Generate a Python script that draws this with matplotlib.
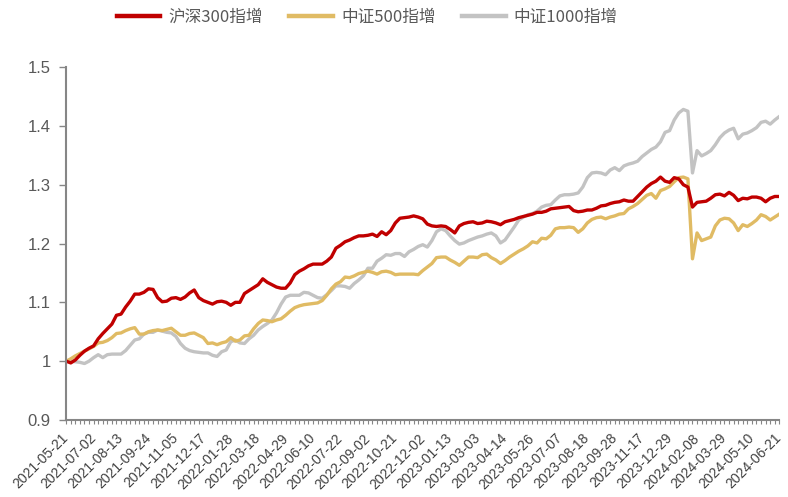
import matplotlib.pyplot as plt
import matplotlib as mpl
import numpy as np

plt.rcParams["font.family"] = ["Liberation Sans", "Noto Sans CJK SC", "DejaVu Sans"]

# weekly net value, 2021-05-21 .. 2024-06-21 (157 trading weeks)
tick_labels = [
	"2021-05-21", "2021-07-02", "2021-08-13", "2021-09-24", "2021-11-05", "2021-12-17",
	"2022-01-28", "2022-03-18", "2022-04-29", "2022-06-10", "2022-07-22", "2022-09-02",
	"2022-10-21", "2022-12-02", "2023-01-13", "2023-03-03", "2023-04-14", "2023-05-26",
	"2023-07-07", "2023-08-18", "2023-09-28", "2023-11-17", "2023-12-29", "2024-02-08",
	"2024-03-29", "2024-05-10", "2024-06-21",
]

hs300 = [
	1.000, 0.997, 1.002, 1.010, 1.017, 1.022, 1.026, 1.038, 1.047, 1.055,
	1.063, 1.078, 1.080, 1.092, 1.102, 1.114, 1.114, 1.117, 1.123, 1.122,
	1.108, 1.101, 1.102, 1.107, 1.108, 1.105, 1.109, 1.116, 1.121, 1.108,
	1.103, 1.100, 1.097, 1.101, 1.102, 1.100, 1.095, 1.100, 1.100, 1.115,
	1.120, 1.125, 1.130, 1.140, 1.134, 1.130, 1.126, 1.124, 1.124, 1.133,
	1.147, 1.153, 1.157, 1.162, 1.165, 1.165, 1.165, 1.170, 1.177, 1.192,
	1.197, 1.203, 1.206, 1.210, 1.213, 1.213, 1.214, 1.216, 1.212, 1.220,
	1.215, 1.222, 1.235, 1.243, 1.244, 1.245, 1.247, 1.245, 1.242, 1.233,
	1.230, 1.229, 1.230, 1.229, 1.224, 1.218, 1.230, 1.234, 1.236, 1.237,
	1.234, 1.235, 1.238, 1.237, 1.235, 1.232, 1.237, 1.239, 1.241, 1.244,
	1.246, 1.248, 1.250, 1.253, 1.253, 1.255, 1.259, 1.260, 1.261, 1.262,
	1.263, 1.256, 1.254, 1.255, 1.257, 1.257, 1.260, 1.264, 1.265, 1.268,
	1.270, 1.271, 1.274, 1.272, 1.272, 1.280, 1.288, 1.296, 1.302, 1.306,
	1.313, 1.306, 1.304, 1.312, 1.310, 1.300, 1.296, 1.262, 1.270, 1.271,
	1.272, 1.277, 1.283, 1.284, 1.281, 1.287, 1.282, 1.273, 1.277, 1.276,
	1.279, 1.279, 1.277, 1.271, 1.277, 1.280, 1.280,
]

zz500 = [
	1.000, 1.004, 1.009, 1.013, 1.017, 1.021, 1.025, 1.031, 1.032, 1.035,
	1.040, 1.047, 1.048, 1.052, 1.055, 1.057, 1.046, 1.046, 1.050, 1.052,
	1.053, 1.052, 1.054, 1.056, 1.050, 1.044, 1.044, 1.047, 1.048, 1.044,
	1.040, 1.030, 1.031, 1.028, 1.031, 1.033, 1.040, 1.034, 1.036, 1.043,
	1.044, 1.055, 1.064, 1.070, 1.069, 1.067, 1.070, 1.072, 1.078, 1.085,
	1.091, 1.094, 1.096, 1.097, 1.098, 1.099, 1.103, 1.112, 1.123, 1.131,
	1.135, 1.143, 1.142, 1.145, 1.149, 1.151, 1.153, 1.151, 1.148, 1.152,
	1.153, 1.151, 1.147, 1.148, 1.148, 1.148, 1.148, 1.147, 1.154, 1.160,
	1.166, 1.176, 1.177, 1.177, 1.172, 1.168, 1.163, 1.170, 1.177, 1.177,
	1.176, 1.181, 1.182, 1.176, 1.172, 1.166, 1.171, 1.177, 1.182, 1.187,
	1.191, 1.196, 1.203, 1.201, 1.209, 1.208, 1.214, 1.225, 1.227, 1.227,
	1.228, 1.227, 1.219, 1.225, 1.235, 1.241, 1.244, 1.245, 1.242, 1.245,
	1.247, 1.250, 1.251, 1.259, 1.263, 1.268, 1.275, 1.282, 1.285, 1.277,
	1.290, 1.293, 1.297, 1.305, 1.312, 1.313, 1.310, 1.174, 1.218, 1.205,
	1.208, 1.211, 1.230, 1.240, 1.243, 1.242, 1.235, 1.222, 1.232, 1.229,
	1.234, 1.240, 1.249, 1.246, 1.240, 1.245, 1.250,
]

zz1000 = [
	1.000, 1.000, 0.999, 0.998, 0.996, 1.000, 1.006, 1.011, 1.006, 1.011,
	1.012, 1.012, 1.012, 1.018, 1.027, 1.036, 1.038, 1.046, 1.049, 1.049,
	1.053, 1.051, 1.049, 1.048, 1.042, 1.030, 1.022, 1.018, 1.016, 1.015,
	1.014, 1.014, 1.010, 1.008, 1.016, 1.019, 1.033, 1.036, 1.031, 1.030,
	1.038, 1.044, 1.053, 1.059, 1.064, 1.070, 1.082, 1.097, 1.109, 1.112,
	1.112, 1.112, 1.117, 1.116, 1.112, 1.108, 1.107, 1.113, 1.120, 1.128,
	1.128, 1.127, 1.124, 1.132, 1.138, 1.145, 1.158, 1.158, 1.170, 1.175,
	1.181, 1.180, 1.183, 1.183, 1.178, 1.186, 1.190, 1.195, 1.198, 1.194,
	1.205, 1.220, 1.225, 1.222, 1.213, 1.205, 1.199, 1.201, 1.205, 1.208,
	1.211, 1.213, 1.216, 1.218, 1.213, 1.201, 1.206, 1.217, 1.228, 1.240,
	1.245, 1.249, 1.251, 1.255, 1.262, 1.265, 1.266, 1.274, 1.281, 1.283,
	1.283, 1.284, 1.286, 1.296, 1.312, 1.320, 1.321, 1.320, 1.317, 1.325,
	1.329, 1.324, 1.332, 1.335, 1.337, 1.340, 1.348, 1.354, 1.360, 1.364,
	1.373, 1.389, 1.392, 1.410, 1.422, 1.428, 1.425, 1.320, 1.358, 1.349,
	1.353, 1.358, 1.368, 1.380, 1.388, 1.393, 1.396, 1.378, 1.386, 1.388,
	1.392, 1.397, 1.406, 1.408, 1.403, 1.410, 1.416,
]

series_names = ["沪深300指增", "中证500指增", "中证1000指增"]
colors = ["#C00000", "#E0BB64", "#C3C3C3"]

y_ticks = [0.9, 1.0, 1.1, 1.2, 1.3, 1.4, 1.5]
y_tick_labels = ["0.9", "1", "1.1", "1.2", "1.3", "1.4", "1.5"]

AXIS_COLOR = "#868686"
TEXT_COLOR = "#595959"

fig = plt.figure(figsize=(7.88, 4.97), dpi=100)
ax = fig.add_axes([0.084, 0.155, 0.905, 0.710])

x = np.arange(len(hs300))
# draw back to front so red sits on top
for values, name, color in list(zip([hs300, zz500, zz1000], series_names, colors))[::-1]:
	ax.plot(x, values, color=color, linewidth=2.4, label=name, solid_joinstyle="round")

ax.set_xlim(0, len(x) - 1)
ax.set_ylim(0.9, 1.5)

ax.set_yticks(y_ticks)
ax.set_yticklabels(y_tick_labels, fontsize=12, color=TEXT_COLOR)
ax.tick_params(axis="y", direction="out", length=5, width=1, color=AXIS_COLOR, pad=6)

ax.set_xticks(np.arange(0, len(x), 6))
ax.set_xticklabels(tick_labels, rotation=45, ha="right", va="center",
	rotation_mode="anchor", fontsize=10, color="#404040")
ax.set_xticks(x, minor=True)
ax.tick_params(axis="x", which="both", direction="out", length=3, width=0.8,
	color=AXIS_COLOR, pad=5)

# nudge the slanted date labels a little down, as in the source chart
shift = mpl.transforms.ScaledTranslation(0.0, -0.05, fig.dpi_scale_trans)
for label in ax.get_xticklabels():
	label.set_transform(label.get_transform() + shift)

for side in ["top", "right"]:
	ax.spines[side].set_visible(False)
for side in ["left", "bottom"]:
	ax.spines[side].set_color(AXIS_COLOR)
	ax.spines[side].set_linewidth(1.5)

handles, labels = ax.get_legend_handles_labels()
fig.legend(handles[::-1], labels[::-1], loc="center", bbox_to_anchor=(0.466, 0.966),
	ncol=3, frameon=False, handlelength=2.6, columnspacing=1.6, handletextpad=0.5,
	prop={"family": ["Noto Sans CJK SC", "DejaVu Sans"], "size": 12},
	labelcolor=TEXT_COLOR)
for line in fig.legends[0].get_lines():
	line.set_linewidth(3.2)

fig.savefig("out.png", dpi=100)
